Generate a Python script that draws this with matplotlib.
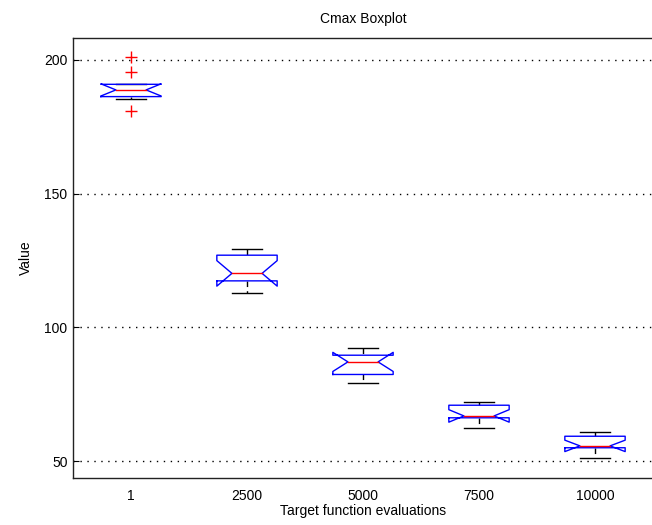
import matplotlib
matplotlib.use("Agg")
import matplotlib.pyplot as plt
import numpy as np

plt.rcParams['font.family'] = ['Liberation Sans', 'DejaVu Sans']

# resumo estatistico de cada grupo (10 execucoes por grupo)
rotulos = ['1', '2500', '5000', '7500', '10000']
q1 = [186.3, 117.4, 82.4, 66.2, 55.0]
mediana = [188.8, 120.2, 87.1, 66.9, 55.7]
q3 = [190.9, 127.0, 89.6, 70.9, 59.3]
bigode_inf = [185.3, 112.7, 79.3, 62.4, 51.2]
bigode_sup = [190.9, 129.2, 92.4, 72.2, 60.9]
outliers = [[201.2, 195.6, 181.0], [], [], [], []]
n_exec = 10

fig = plt.figure(figsize=(6.52, 5.25), dpi=100)
ax = fig.add_axes([73 / 652, 47.3 / 525, 580 / 652, 439.4 / 525])

w = 0.26  # meia largura da caixa
for i in range(len(rotulos)):
    x = i + 1
    iqr = q3[i] - q1[i]
    entalhe = 1.57 * iqr / np.sqrt(n_exec)
    n_lo = mediana[i] - entalhe
    n_hi = mediana[i] + entalhe

    # caixa com entalhe (estilo MATLAB, pode "dobrar" para fora da caixa)
    px = [x - w, x - w, x - w / 2, x - w, x - w, x + w, x + w, x + w / 2, x + w, x + w, x - w]
    py = [q1[i], n_lo, mediana[i], n_hi, q3[i], q3[i], n_hi, mediana[i], n_lo, q1[i], q1[i]]
    ax.plot(px, py, color='#0000ff', lw=1.0, zorder=3)

    # mediana
    ax.plot([x - w / 2, x + w / 2], [mediana[i], mediana[i]], color='#ff0000', lw=1.0, zorder=4)

    # bigodes tracejados e limites
    ax.plot([x, x], [bigode_sup[i], q3[i]], color='black', lw=1.0, dashes=(4, 3), zorder=2)
    ax.plot([x, x], [q1[i], bigode_inf[i]], color='black', lw=1.0, dashes=(4, 3), zorder=2)
    ax.plot([x - w / 2, x + w / 2], [bigode_sup[i], bigode_sup[i]], color='black', lw=1.0, zorder=2)
    ax.plot([x - w / 2, x + w / 2], [bigode_inf[i], bigode_inf[i]], color='black', lw=1.0, zorder=2)

    if outliers[i]:
        ax.plot([x] * len(outliers[i]), outliers[i], '+', color='#ff0000', ms=9, mew=1.0, zorder=5)

ax.set_xlim(0.5, 5.5)
ax.set_ylim(43.8, 208.1)
ax.set_xticks(range(1, len(rotulos) + 1))
ax.set_xticklabels(rotulos)
ax.set_yticks([50, 100, 150, 200])
ax.tick_params(direction='in', length=4, labelsize=10, pad=4)
ax.tick_params(axis='x', length=0, pad=8)
ax.yaxis.grid(True, linestyle=(0, (1, 4)), color='black', lw=1.0)
ax.set_axisbelow(True)
for s in ax.spines.values():
    s.set_linewidth(1.0)
    s.set_color('#222222')

ax.set_title('Cmax Boxplot', fontsize=10, pad=11)
ax.set_xlabel('Target function evaluations', fontsize=10, labelpad=1)
ax.set_ylabel('Value', fontsize=10, labelpad=8)

fig.savefig('out.png', dpi=100)
